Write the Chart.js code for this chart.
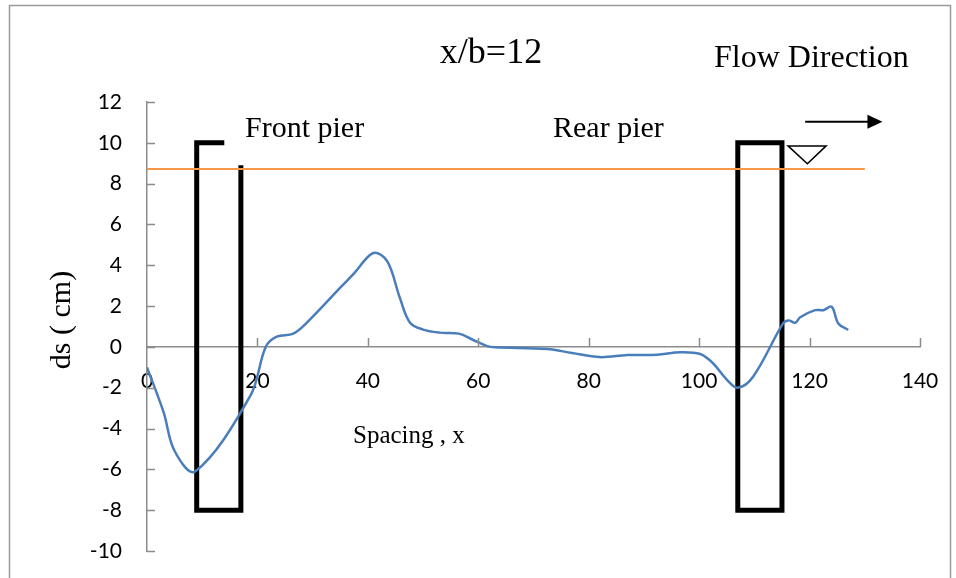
<!DOCTYPE html>
<html>
<head>
<meta charset="utf-8">
<script src="https://cdn.jsdelivr.net/npm/chart.js@4.4.1/dist/chart.umd.min.js"></script>
<style>
  html, body { margin: 0; padding: 0; background: #fff; }
  #wrap { width: 956px; height: 578px; position: relative; }
</style>
</head>
<body>
<div id="wrap"><canvas id="scourChart"></canvas></div>
<script>
// measured scour profile along the channel (x in cm, ds in cm)
const spacing = [0, 3, 5, 8.7, 18.7, 21.5, 23.5, 26.5, 29, 35, 37.5, 41, 43.5, 45.8, 47.6, 50, 53, 56.5, 59, 61.5,
                 63, 72.5, 77, 82, 87, 92.4, 96.6, 100.2, 102.5, 105, 107, 109.8, 115.2, 116.2, 117.4, 118.3, 121, 122.5, 124, 125.2, 127];
const scourDepth = [-1.0, -3.2, -5.1, -6.1, -2.4, 0, 0.5, 0.65, 1.2, 2.9, 3.6, 4.6, 4.2, 2.4, 1.2, 0.85, 0.7, 0.65, 0.35, 0.05,
                    -0.02, -0.1, -0.3, -0.5, -0.4, -0.38, -0.26, -0.35, -0.8, -1.6, -2.0, -1.45, 1.15, 1.3, 1.18, 1.45, 1.8, 1.8, 1.97, 1.15, 0.83];

// water surface
const waterX = [0, 130];
const waterLevel = [8.72, 8.72];

// pier outlines
const frontPierX = [14, 9, 9, 17, 17];
const frontPierY = [10, 10, -8, -8, 8.9];
const rearPierX = [107, 107, 115, 115, 107];
const rearPierY = [-8, 10, 10, -8, -8];

// axis ticks
const xTicks = [0, 20, 40, 60, 80, 100, 120, 140];
const yTicks = [12, 10, 8, 6, 4, 2, 0, -2, -4, -6, -8, -10];

const pts = (xs, ys) => xs.map((x, i) => ({ x: x, y: ys[i] }));

const AXIS_GRAY = '#8c8c8c';
const SERIF = '"Liberation Serif", "Times New Roman", serif';

const decorations = {
  id: 'decorations',
  beforeDraw(chart) {
    const ctx = chart.ctx;
    ctx.save();
    ctx.strokeStyle = '#9a9a9a';
    ctx.lineWidth = 1.5;
    ctx.strokeRect(9.5, 5.5, 941, 600);
    ctx.restore();
  },
  afterDatasetsDraw(chart) {
    const ctx = chart.ctx;
    const xs = chart.scales.x, ys = chart.scales.y;
    const left = chart.chartArea.left;
    const y0 = ys.getPixelForValue(0);
    ctx.save();

    // inside tick marks
    ctx.strokeStyle = AXIS_GRAY;
    ctx.lineWidth = 1.5;
    ctx.beginPath();
    yTicks.forEach(v => {
      const py = Math.round(ys.getPixelForValue(v)) + 0.5;
      ctx.moveTo(left, py);
      ctx.lineTo(left + 8, py);
    });
    xTicks.forEach(v => {
      if (v === 0) return;
      const px = Math.round(xs.getPixelForValue(v)) + 0.5;
      ctx.moveTo(px, y0);
      ctx.lineTo(px, y0 - 9);
    });
    ctx.stroke();

    // flow direction arrow
    const ay = ys.getPixelForValue(11.03);
    const ax1 = xs.getPixelForValue(119.2);
    const ax2 = xs.getPixelForValue(133.2);
    ctx.strokeStyle = '#000';
    ctx.fillStyle = '#000';
    ctx.lineWidth = 2;
    ctx.beginPath();
    ctx.moveTo(ax1, ay);
    ctx.lineTo(ax2 - 12, ay);
    ctx.stroke();
    ctx.beginPath();
    ctx.moveTo(ax2, ay);
    ctx.lineTo(ax2 - 15, ay - 7);
    ctx.lineTo(ax2 - 15, ay + 7);
    ctx.closePath();
    ctx.fill();

    // water surface symbol
    ctx.lineWidth = 1.5;
    ctx.fillStyle = '#fff';
    ctx.beginPath();
    ctx.moveTo(xs.getPixelForValue(116.1), ys.getPixelForValue(9.85));
    ctx.lineTo(xs.getPixelForValue(123), ys.getPixelForValue(9.85));
    ctx.lineTo(xs.getPixelForValue(119.6), ys.getPixelForValue(8.97));
    ctx.closePath();
    ctx.fill();
    ctx.stroke();

    // text labels
    ctx.fillStyle = '#000';
    ctx.textBaseline = 'alphabetic';
    ctx.textAlign = 'center';
    ctx.font = '36px ' + SERIF;
    ctx.fillText('x/b=12', 491, 63);
    ctx.textAlign = 'left';
    ctx.font = '32px ' + SERIF;
    ctx.fillText('Flow Direction', 714, 67);
    ctx.font = '30px ' + SERIF;
    ctx.fillText('Front pier', 245, 137);
    ctx.fillText('Rear pier', 553, 137);
    ctx.font = '25px ' + SERIF;
    ctx.fillText('Spacing , x', 353, 443);

    ctx.translate(62, 320);
    ctx.rotate(-Math.PI / 2);
    ctx.textAlign = 'center';
    ctx.textBaseline = 'middle';
    ctx.font = '30px ' + SERIF;
    ctx.fillText('ds ( cm)', 0, 0);
    ctx.restore();
  }
};

const lineStyle = { pointRadius: 0, pointHoverRadius: 0, fill: false };

new Chart(document.getElementById('scourChart'), {
  type: 'line',
  data: {
    datasets: [
      Object.assign({ data: pts(waterX, waterLevel), borderColor: '#F79646', borderWidth: 2, tension: 0 }, lineStyle),
      Object.assign({ data: pts(spacing, scourDepth), borderColor: '#4A7EBB', borderWidth: 2.5, tension: 0.35 }, lineStyle),
      Object.assign({ data: pts(frontPierX, frontPierY), borderColor: '#000', borderWidth: 5, tension: 0,
                      borderJoinStyle: 'miter', borderCapStyle: 'butt' }, lineStyle),
      Object.assign({ data: pts(rearPierX, rearPierY), borderColor: '#000', borderWidth: 5, tension: 0,
                      borderJoinStyle: 'miter', borderCapStyle: 'square' }, lineStyle)
    ]
  },
  options: {
    responsive: true,
    maintainAspectRatio: false,
    animation: false,
    layout: { padding: { left: 0, top: 102, right: 36, bottom: 27 } },
    plugins: { legend: { display: false }, tooltip: { enabled: false }, title: { display: false } },
    scales: {
      x: {
        type: 'linear',
        position: { y: 0 },
        min: 0, max: 140,
        grid: { display: false, drawTicks: false },
        border: { display: true, color: AXIS_GRAY, width: 1.5 },
        ticks: { stepSize: 20, padding: 22, color: '#000', font: { family: 'Lato', size: 21 }, maxRotation: 0 },
        afterFit(scale) {
          scale.height = 0;
          scale.paddingLeft = 0; scale.paddingRight = 0;
          scale.paddingTop = 0; scale.paddingBottom = 0;
        }
      },
      y: {
        type: 'linear',
        position: 'left',
        min: -10, max: 12,
        grid: { display: false, drawTicks: false },
        border: { display: true, color: AXIS_GRAY, width: 1.5 },
        ticks: { stepSize: 2, padding: 25, color: '#000', font: { family: 'Lato', size: 21 } },
        afterFit(scale) {
          scale.width = 147;
          scale.paddingTop = 0; scale.paddingBottom = 0;
        }
      }
    }
  },
  plugins: [decorations]
});
</script>
</body>
</html>
